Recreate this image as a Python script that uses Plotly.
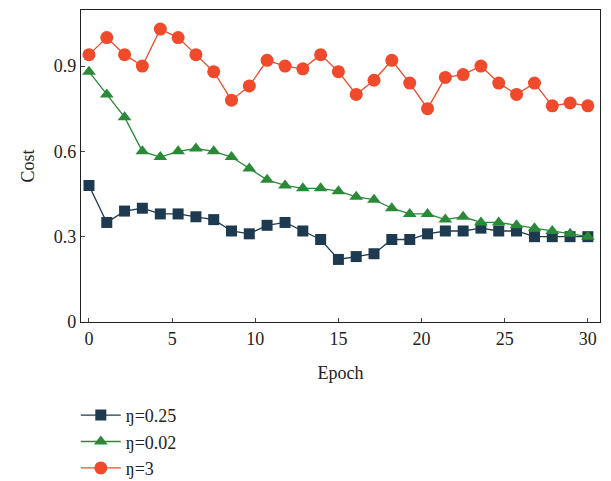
import plotly.graph_objects as go

epoch = [0, 1.07, 2.14, 3.21, 4.29, 5.36, 6.43, 7.5, 8.57, 9.64, 10.71, 11.79, 12.86, 13.93,
         15.0, 16.07, 17.14, 18.21, 19.29, 20.36, 21.43, 22.5, 23.57, 24.64, 25.71, 26.79,
         27.86, 28.93, 30.0]

cost_025 = [0.48, 0.35, 0.39, 0.40, 0.38, 0.38, 0.37, 0.36, 0.32, 0.31, 0.34, 0.35, 0.32, 0.29,
            0.22, 0.23, 0.24, 0.29, 0.29, 0.31, 0.32, 0.32, 0.33, 0.32, 0.32, 0.30, 0.30, 0.30, 0.30]
cost_002 = [0.88, 0.80, 0.72, 0.60, 0.58, 0.60, 0.61, 0.60, 0.58, 0.54, 0.50, 0.48, 0.47, 0.47,
            0.46, 0.44, 0.43, 0.40, 0.38, 0.38, 0.36, 0.37, 0.35, 0.35, 0.34, 0.33, 0.32, 0.31, 0.30]
cost_3 = [0.94, 1.00, 0.94, 0.90, 1.03, 1.00, 0.94, 0.88, 0.78, 0.83, 0.92, 0.90, 0.89, 0.94,
          0.88, 0.80, 0.85, 0.92, 0.84, 0.75, 0.86, 0.87, 0.90, 0.84, 0.80, 0.84, 0.76, 0.77, 0.76]

x_ticks = [0, 5, 10, 15, 20, 25, 30]
y_ticks = [0, 0.3, 0.6, 0.9]
y_tick_labels = ["0", "0.3", "0.6", "0.9"]

font = "Liberation Serif, Times New Roman, serif"
tfont = dict(family=font, size=18, color="#222")

fig = go.Figure()
fig.add_trace(go.Scatter(x=epoch, y=cost_025, mode="lines+markers", name="ŋ=0.25",
                         line=dict(color="#1e3a50", width=1.3),
                         marker=dict(symbol="square", size=11, color="#1e3a50")))
fig.add_trace(go.Scatter(x=epoch, y=cost_002, mode="lines+markers", name="ŋ=0.02",
                         line=dict(color="#2a8a38", width=1.3),
                         marker=dict(symbol="triangle-up", size=12, color="#2a8a38")))
fig.add_trace(go.Scatter(x=epoch, y=cost_3, mode="lines+markers", name="ŋ=3",
                         line=dict(color="#ef4a2b", width=1.3),
                         marker=dict(symbol="circle", size=13, color="#ef4a2b")))

fig.update_layout(
    width=611, height=481,
    margin=dict(l=81, r=11, t=10, b=159, autoexpand=False),
    plot_bgcolor="white", paper_bgcolor="white",
    font=tfont,
    showlegend=True,
    legend=dict(x=-0.01, y=-0.24, xanchor="left", yanchor="top",
                font=dict(family=font, size=18, color="#222"),
                tracegroupgap=0, itemwidth=40, bgcolor="rgba(0,0,0,0)"),
    xaxis=dict(range=[-0.48, 30.73], tickvals=x_ticks, ticks="inside", ticklen=4,
               tickfont=tfont, automargin=False,
               showline=True, linecolor="#222", linewidth=1.2, mirror=True,
               showgrid=False, zeroline=False,
               title=dict(text="Epoch", font=tfont, standoff=18)),
    yaxis=dict(range=[0, 1.097], tickvals=y_ticks, ticktext=y_tick_labels, ticks="inside",
               ticklen=4, tickfont=tfont, automargin=False,
               showline=True, linecolor="#222", linewidth=1.2, mirror=True,
               showgrid=False, zeroline=False,
               title=dict(text="Cost", font=tfont, standoff=14)),
)

fig.write_html("out.html", config={"displayModeBar": False},
               post_script="document.body.style.margin='0';document.body.style.overflow='hidden';")
